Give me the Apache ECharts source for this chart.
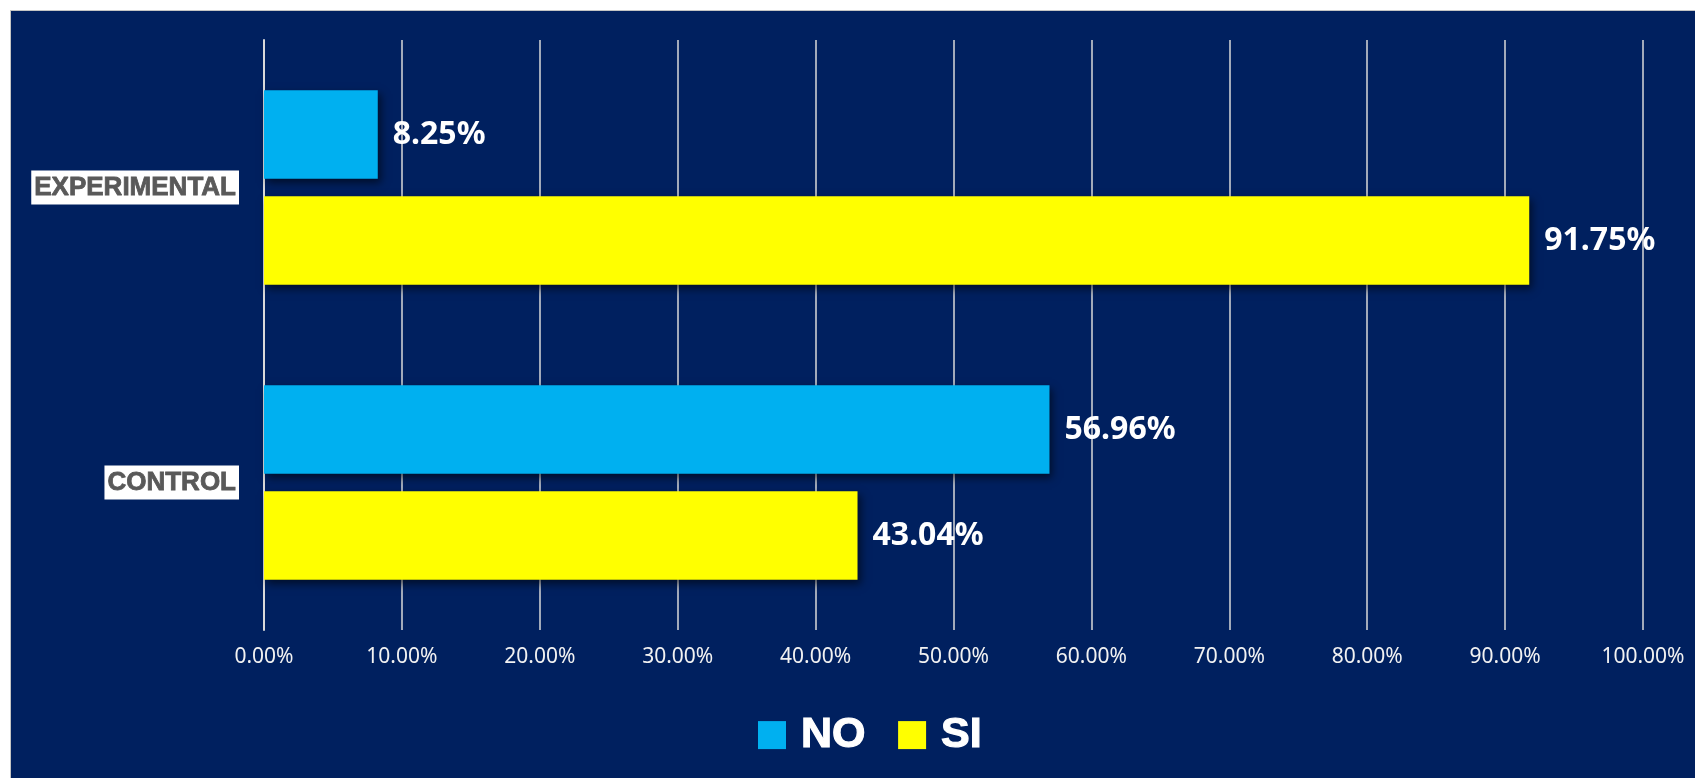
<!DOCTYPE html>
<html>
<head>
<meta charset="utf-8">
<script src="https://cdn.jsdelivr.net/npm/echarts@6/dist/echarts.min.js"></script>
<style>
  html, body { margin: 0; padding: 0; background: #fff; width: 1695px; height: 778px; overflow: hidden; }
  #frame { position: absolute; left: 10px; top: 10px; width: 1685px; height: 768px; background: #c4c4c4; }
  #chart { position: absolute; left: 11px; top: 11px; width: 1684px; height: 767px; }
</style>
</head>
<body>
<div id="frame"></div>
<div id="chart"></div>
<script>
// categories bottom -> top (echarts category y axis starts at the bottom)
const categories = ["CONTROL", "EXPERIMENTAL"]
const seriesNames = ["NO", "SI"]
const noValues = [56.96, 8.25]
const siValues = [43.04, 91.75]
const xTicks = [0, 10, 20, 30, 40, 50, 60, 70, 80, 90, 100]

const chart = echarts.init(document.getElementById("chart"), null, { renderer: "canvas" })

const pct = (v) => Number(v).toFixed(2) + "%"

const barLabel = {
  show: true,
  position: "right",
  distance: 15,
  color: "#fff",
  fontSize: 32,
  fontWeight: "bold",
  fontFamily: "Noto Sans",
  formatter: (p) => pct(p.value)
}
const barShadow = {
  shadowBlur: 8,
  shadowOffsetX: 3,
  shadowOffsetY: 4,
  shadowColor: "rgba(0,0,0,0.55)"
}

const options = {
  backgroundColor: "#00205f",
  animation: false,
  grid: {
    left: 253,
    right: 52,
    top: 29,
    bottom: 148
  },
  legend: {
    data: seriesNames,
    left: 742,
    top: 697,
    icon: "rect",
    itemWidth: 28,
    itemHeight: 28,
    itemGap: 32,
    textStyle: {
      color: "#fff",
      fontSize: 43,
      fontWeight: "bold",
      fontFamily: "Liberation Sans",
      textBorderColor: "#fff",
      textBorderWidth: 1.2,
      padding: [0, 0, 0, 10]
    }
  },
  xAxis: {
    type: "value",
    min: xTicks[0],
    max: xTicks[xTicks.length - 1],
    interval: 10,
    axisLine: { show: false },
    axisTick: { show: false },
    splitLine: {
      show: true,
      lineStyle: { color: "#d9d9d9", width: 1.5 }
    },
    axisLabel: {
      color: "#f2f2f2",
      fontSize: 21,
      fontFamily: "Noto Sans",
      margin: 17,
      formatter: (v) => pct(v)
    }
  },
  yAxis: {
    type: "category",
    data: categories,
    axisLine: {
      show: true,
      lineStyle: { color: "#d9d9d9", width: 2 }
    },
    axisTick: { show: false },
    axisLabel: {
      color: "#595959",
      fontSize: 26,
      fontWeight: "bold",
      fontFamily: "Liberation Sans",
      textBorderColor: "#595959",
      textBorderWidth: 0.8,
      backgroundColor: "#fff",
      padding: [3, 3, 1, 3],
      lineHeight: 30,
      margin: 25
    }
  },
  series: [
    {
      name: seriesNames[0],
      type: "bar",
      data: noValues,
      barGap: "20%",
      barCategoryGap: "34%",
      itemStyle: Object.assign({ color: "#00b0f0" }, barShadow),
      label: barLabel
    },
    {
      name: seriesNames[1],
      type: "bar",
      data: siValues,
      barGap: "20%",
      barCategoryGap: "34%",
      itemStyle: Object.assign({ color: "#ffff00" }, barShadow),
      label: barLabel
    }
  ]
}
chart.setOption(options)
</script>
</body>
</html>
